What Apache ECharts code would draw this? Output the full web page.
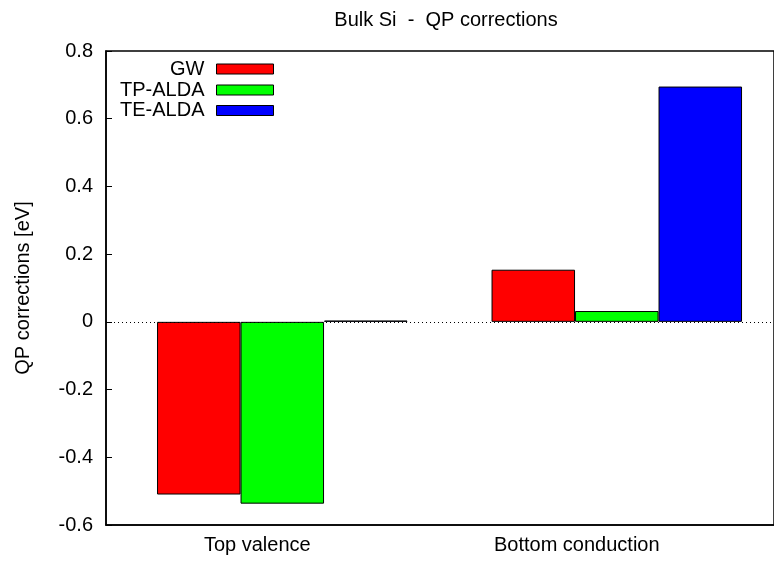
<!DOCTYPE html>
<html>
<head>
<meta charset="utf-8">
<script src="https://cdn.jsdelivr.net/npm/echarts@6/dist/echarts.min.js"></script>
<style>html,body{margin:0;padding:0;background:#fff;}#c{width:774px;height:563px;}</style>
</head>
<body>
<div id="c"></div>
<script>
var categories = ['Top valence', 'Bottom conduction'];
var seriesNames = ['GW', 'TP-ALDA', 'TE-ALDA'];
var gwValues = [-0.510, 0.154];
var tpaldaValues = [-0.537, 0.032];
var tealdaValues = [0.004, 0.695];
var yTicks = [-0.6, -0.4, -0.2, 0, 0.2, 0.4, 0.6, 0.8];
var colors = ['#ff0000', '#00ff00', '#0000ff'];

var FONT = 'Liberation Sans';
var FS = 20;
var allValues = [gwValues, tpaldaValues, tealdaValues];

function toPoints(vals) {
  return vals.map(function (v, i) { return [i, v]; });
}

var series = seriesNames.map(function (name, k) {
  var s = {
    name: name,
    type: 'bar',
    data: toPoints(allValues[k]),
    barWidth: 83.5,
    barGap: '0%',
    itemStyle: { color: colors[k], borderColor: '#000', borderWidth: 1 }
  };
  if (k === 0) {
    s.markLine = {
      silent: true,
      symbol: 'none',
      label: { show: false },
      lineStyle: { type: [1, 3], color: '#000', width: 1 },
      data: [{ yAxis: 0 }]
    };
  }
  return s;
});

var legendTops = [59, 80, 100.5];
var legends = seriesNames.map(function (name, k) {
  return {
    data: [{ name: name, icon: 'rect' }],
    orient: 'vertical',
    right: 500,
    top: legendTops[k],
    padding: 0,
    align: 'right',
    itemWidth: 57,
    itemHeight: 10,
    selectedMode: false,
    textStyle: { fontFamily: FONT, fontSize: FS, color: '#000', lineHeight: 20, padding: [0, 7, 0, 0] },
    itemStyle: { borderColor: '#000', borderWidth: 1 }
  };
});

var chart = echarts.init(document.getElementById('c'));
chart.setOption({
  animation: false,
  backgroundColor: '#fff',
  title: {
    text: 'Bulk Si  -  QP corrections',
    left: 441,
    textAlign: 'center',
    top: 5,
    textStyle: { fontFamily: FONT, fontSize: FS, fontWeight: 'normal', color: '#000' }
  },
  legend: legends,
  grid: {
    left: 106, top: 51, right: -2, bottom: 38,
    show: true, borderColor: '#000', borderWidth: 1.5, backgroundColor: 'transparent'
  },
  xAxis: {
    type: 'value',
    min: -0.527,
    max: 1.47,
    splitLine: { show: false },
    axisLine: { show: true, onZero: false, lineStyle: { color: '#000', width: 1.5 } },
    axisTick: { show: false },
    axisLabel: {
      customValues: [0, 1],
      formatter: function (v) {
        var i = Math.round(v);
        return '{c' + i + '|' + categories[i] + '}';
      },
      rich: {
        c0: { fontFamily: FONT, fontSize: FS, color: '#000', padding: [0, 50, 0, 0] },
        c1: { fontFamily: FONT, fontSize: FS, color: '#000', padding: [0, 80, 0, 0] }
      },
      fontFamily: FONT, fontSize: FS, color: '#000', margin: 10
    }
  },
  yAxis: {
    type: 'value',
    min: -0.6,
    max: 0.8,
    interval: 0.2,
    name: 'QP corrections [eV]',
    nameLocation: 'middle',
    nameGap: 73,
    nameTextStyle: { fontFamily: FONT, fontSize: FS, color: '#000' },
    splitLine: { show: false },
    axisLine: { show: true, onZero: false, lineStyle: { color: '#000', width: 1.5 } },
    axisTick: { show: true, inside: true, length: 6, lineStyle: { color: '#000' } },
    axisLabel: {
      fontFamily: FONT, fontSize: FS, color: '#000', margin: 13,
      formatter: function (v) { return String(Math.round(v * 10) / 10); }
    }
  },
  series: series
});
</script>
</body>
</html>
